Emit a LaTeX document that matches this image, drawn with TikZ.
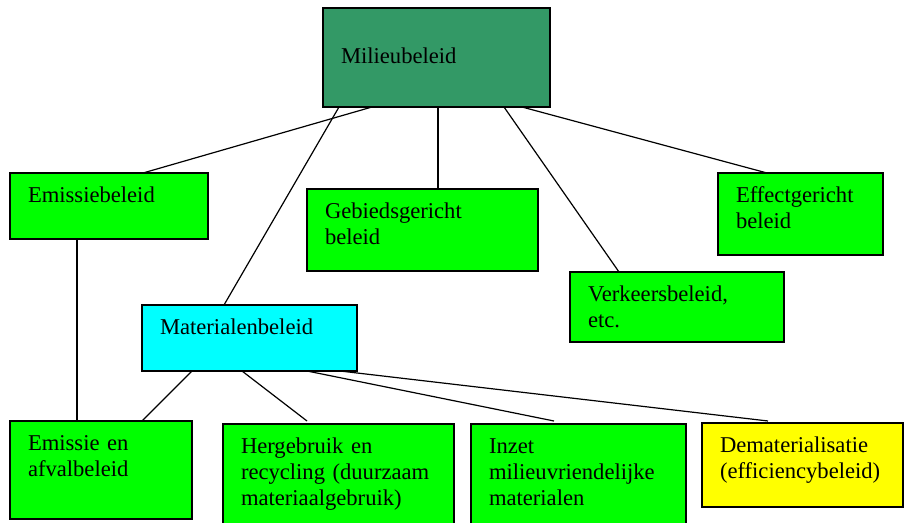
\documentclass[tikz,border=0pt]{standalone}
\usepackage{fontspec}
\setmainfont{Liberation Serif}
\definecolor{donkergroen}{HTML}{339966}
\definecolor{felgroen}{HTML}{00FF00}
\definecolor{lichtblauw}{HTML}{00FFFF}
\definecolor{geel}{HTML}{FFFF00}
\tikzset{
    vak/.style={draw, line width=0.65pt, anchor=north west, align=left,
        inner xsep=9pt, inner ysep=0pt, outer sep=0pt, text height=15pt,
        font=\fontsize{11.3}{13}\selectfont},
    lijn/.style={line width=0.6pt}
}

\begin{document}
\begin{tikzpicture}[x=0.5pt, y=-0.5pt]
    \clip (0,0) rectangle (905,523);
    % First, locate each of the boxes and name them
        \node [vak, fill=donkergroen, text width=95.5pt, text height=28pt, text depth=21.5pt] (milieu) at (323,8) {Milieubeleid};
        \node [vak, fill=felgroen, text width=81pt, text depth=18pt] (emissie) at (10,173) {Emissiebeleid};
        \node [vak, fill=felgroen, text width=97.5pt, text depth=26pt] (gebied) at (307,189) {Gebiedsgericht\\beleid};
        \node [vak, fill=felgroen, text width=64.5pt, text depth=26pt] (effect) at (718,173) {Effectgericht\\beleid};
        \node [vak, fill=felgroen, text width=89pt, text depth=20pt] (verkeer) at (570,272) {Verkeersbeleid,\\etc.};
        \node [vak, fill=lichtblauw, text width=89.5pt, text depth=18pt] (materiaal) at (142,305) {Materialenbeleid};
        \node [vak, fill=felgroen, text width=73pt, text depth=34pt] (afval) at (10,421) {Emissie en\\afvalbeleid};
        \node [vak, fill=felgroen, text width=97.5pt, text depth=36pt] (hergebruik) at (223,424) {Hergebruik en\\recycling (duurzaam\\materiaalgebruik)};
        \node [vak, fill=felgroen, text width=89.5pt, text depth=36pt] (inzet) at (471,424) {Inzet\\milieuvriendelijke\\materialen};
        \node [vak, fill=geel, text width=82.5pt, text depth=27pt] (demat) at (702,423) {Dematerialisatie\\(efficiencybeleid)};

    % Now draw the lines:
        \draw [lijn] ([xshift=24.5pt]milieu.south west) -- ([xshift=66.5pt]emissie.north west);
        \draw [lijn] ([xshift=8pt]milieu.south west) -- ([xshift=41pt]materiaal.north west);
        \draw [lijn] ([xshift=57.5pt]milieu.south west) -- ([xshift=65.5pt]gebied.north west);
        \draw [lijn] ([xshift=90.5pt]milieu.south west) -- ([xshift=24.5pt]verkeer.north west);
        \draw [lijn] ([xshift=99.5pt]milieu.south west) -- ([xshift=24.5pt]effect.north west);
        \draw [lijn] ([xshift=33.5pt]emissie.south west) -- ([xshift=33.5pt]afval.north west);
        \draw [lijn] ([xshift=25pt]materiaal.south west) -- ([xshift=66pt]afval.north west);
        \draw [lijn] ([xshift=50pt]materiaal.south west) -- ([xshift=42pt, yshift=1.5pt]hergebruik.north west);
        \draw [lijn] ([xshift=82.5pt]materiaal.south west) -- ([xshift=41.5pt, yshift=1.5pt]inzet.north west);
        \draw [lijn] ([xshift=99pt]materiaal.south west) -- ([xshift=33pt, yshift=1pt]demat.north west);
    \end{tikzpicture}
\end{document}
